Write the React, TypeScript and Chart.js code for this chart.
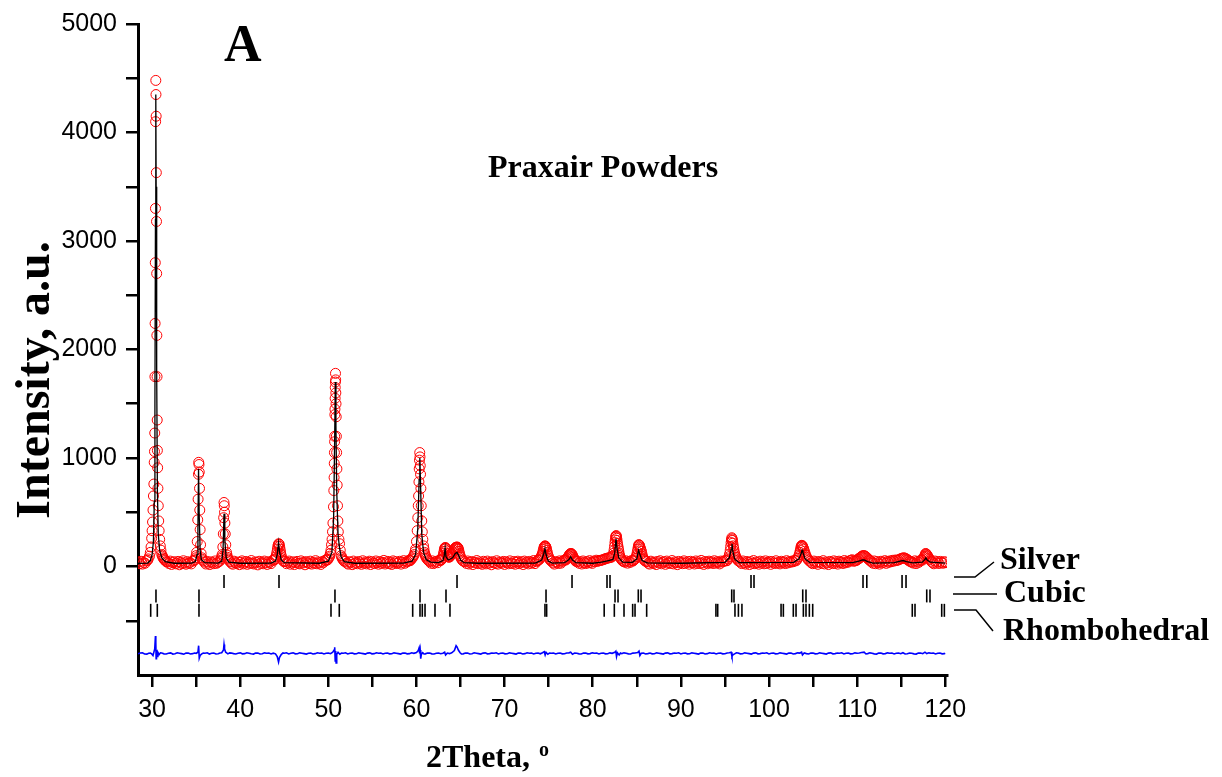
import React, { useEffect, useRef } from 'react';
import { Chart, registerables } from 'chart.js';

Chart.register(...registerables);

// ---- axis ranges and ticks ----
const X_MIN = 28.4;
const X_MAX = 120.2;
const Y_MIN = -1000;
const Y_MAX = 5000;
const xTickValues = [30, 35, 40, 45, 50, 55, 60, 65, 70, 75, 80, 85, 90, 95, 100, 105, 110, 115, 120];
const yTickValues = [-500, 0, 500, 1000, 1500, 2000, 2500, 3000, 3500, 4000, 4500, 5000];

// ---- observed pattern: background stretches on the instrument's constant 2theta step ----
const OBS_STEP = 0.15;
const obsBackground: { start: number; values: number[] }[] = [
  { start: 28.45, values: [40, 26, 48, 22, 37, 30, 52, 58] },
  { start: 31.75, values: [42, 28, 50, 19, 36, 44, 25, 31, 47, 16, 39, 27, 53, 33, 21, 45, 30, 38, 24, 49, 55] },
  { start: 35.95, values: [40, 23, 47, 31, 18, 43, 35, 26, 51, 29, 37, 46, 58] },
  { start: 38.85, values: [44, 30, 21, 49, 35, 27, 41, 17, 38, 52, 24, 33, 46, 20, 39, 29, 55, 31, 23, 42, 36, 15, 48, 28, 40, 25, 50, 34, 19, 44, 37, 27, 53, 60] },
  { start: 45.1, values: [45, 26, 38, 50, 21, 33, 43, 18, 36, 47, 29, 24, 52, 31, 40, 16, 45, 35, 27, 49, 22, 38, 30, 54, 25, 41, 33, 19, 46, 37, 55, 62] },
  { start: 51.95, values: [48, 31, 22, 44, 36, 17, 50, 28, 39, 25, 46, 33, 20, 53, 30, 41, 24, 37, 49, 18, 43, 32, 27, 51, 35, 21, 45, 29, 38, 56, 23, 34, 47, 26, 40, 19, 52, 31, 44, 28, 36, 48, 22, 39, 54, 30, 42, 47, 58] },
  { start: 61.5, values: [45, 30, 52, 27, 40, 48, 35, 55, 62] },
  { start: 65.5, values: [44, 29, 51, 23, 37, 46, 18, 40, 33, 55, 26, 42, 31, 20, 48, 36, 24, 50, 29, 39, 16, 45, 34, 27, 53, 22, 41, 37, 30, 47, 19, 43, 35, 25, 52, 32, 28, 46, 21, 39, 49, 26, 36, 44, 18, 50, 33, 41, 24, 47, 30, 38, 55, 27, 45, 58] },
  { start: 75.35, values: [50, 33, 22, 45, 38, 28, 52, 31, 47, 56, 60] },
  { start: 78.3, values: [48, 30, 42, 23, 51, 36, 27, 45, 33, 54, 39, 29, 50, 44, 58, 47, 56] },
  { start: 83.65, values: [40, 52, 31, 46, 38, 55, 50] },
  { start: 86.15, values: [45, 30, 22, 49, 36, 27, 41, 18, 46, 33, 53, 25, 38, 44, 20, 50, 31, 37, 28, 55, 24, 42, 35, 17, 47, 32, 40, 26, 52, 29, 36, 45, 21, 48, 34, 39, 23, 51, 30, 43, 27, 56, 33, 19, 46, 38, 25, 49, 35, 42, 28, 53, 31, 44, 37, 24, 50, 41, 47, 55, 52] },
  { start: 96.75, values: [40, 27, 51, 33, 22, 46, 38, 18, 44, 30, 55, 26, 41, 35, 21, 49, 32, 43, 25, 52, 29, 37, 47, 20, 45, 34, 28, 53, 31, 40, 24, 48, 36, 42, 27, 54, 33, 46, 39, 50, 44, 57, 52] },
  { start: 104.65, values: [48, 35, 26, 50, 31, 43, 20, 46, 37, 29, 54, 24, 41, 33, 18, 47, 38, 27, 52, 30, 44, 22, 49, 36, 41, 28, 55, 34, 46, 40, 52, 58, 62] },
  { start: 111.65, values: [42, 30, 51, 26, 45, 36, 22, 48, 33, 40, 54, 29, 47, 38, 52, 44, 57, 50, 60] },
  { start: 116.25, values: [40, 31, 52, 27, 46, 38, 55, 60] },
  { start: 118.4, values: [48, 36, 25, 50, 32, 44, 28, 47, 38, 30, 45, 35] },
];

// ---- observed pattern: peak regions (2theta, intensity) ----
const observedPeaks: [number, number][] = [
  [29.55, 70], [29.7, 95], [29.8, 130], [29.88, 180], [29.95, 260], [30.0, 330], [30.05, 410], [30.1, 520], [30.15, 650],
  [30.2, 760], [30.24, 960], [30.27, 1060], [30.3, 1230], [30.32, 1750], [30.34, 2240], [30.36, 2800], [30.38, 3300],
  [30.4, 4100], [30.42, 4480], [30.44, 4350], [30.46, 4150], [30.48, 3630], [30.5, 3180], [30.52, 2700], [30.54, 2130],
  [30.56, 1750], [30.58, 1350], [30.6, 1070], [30.63, 910], [30.66, 720], [30.7, 560], [30.75, 420], [30.8, 330],
  [30.86, 250], [30.93, 190], [31.0, 150], [31.1, 110], [31.18, 95], [31.25, 80], [31.33, 70], [31.4, 62], [31.5, 55], [31.6, 45],
  [34.88, 62], [34.95, 80], [35.0, 100], [35.05, 130], [35.12, 230], [35.18, 430], [35.22, 620], [35.26, 850], [35.29, 960],
  [35.32, 940], [35.35, 870], [35.38, 720], [35.41, 520], [35.45, 340], [35.5, 200], [35.56, 120], [35.65, 80], [35.72, 65], [35.8, 52],
  [37.85, 75], [37.9, 90], [37.95, 110], [38.03, 180], [38.08, 300], [38.12, 450], [38.16, 590], [38.19, 560], [38.22, 500],
  [38.26, 400], [38.3, 300], [38.36, 200], [38.44, 130], [38.5, 105], [38.55, 85], [38.62, 70], [38.7, 58],
  [43.9, 62], [43.95, 70], [44.03, 88], [44.1, 105], [44.16, 130], [44.22, 160], [44.27, 185], [44.32, 200], [44.37, 210],
  [44.42, 205], [44.47, 185], [44.52, 160], [44.57, 135], [44.62, 110], [44.68, 90], [44.75, 70], [44.85, 55], [44.95, 45],
  [49.85, 58], [49.95, 65], [50.05, 80], [50.15, 95], [50.22, 120], [50.3, 150], [50.36, 200], [50.42, 250], [50.47, 320],
  [50.52, 400], [50.58, 550], [50.62, 700], [50.65, 820], [50.67, 950], [50.69, 1050], [50.71, 1150], [50.72, 1200],
  [50.74, 1400], [50.75, 1450], [50.77, 1550], [50.78, 1650], [50.8, 1700], [50.81, 1780], [50.83, 1720], [50.85, 1600],
  [50.87, 1500], [50.89, 1380], [50.91, 1200], [50.94, 1050], [50.97, 900], [51.0, 750], [51.04, 560], [51.08, 420],
  [51.13, 320], [51.2, 250], [51.27, 210], [51.35, 150], [51.45, 100], [51.52, 85], [51.6, 70], [51.7, 58], [51.8, 48],
  [59.2, 52], [59.3, 55], [59.42, 68], [59.55, 80], [59.65, 95], [59.75, 110], [59.83, 135], [59.9, 160], [60.0, 230],
  [60.08, 330], [60.15, 450], [60.2, 560], [60.24, 650], [60.28, 780], [60.31, 900], [60.34, 980], [60.37, 1050],
  [60.4, 1010], [60.43, 930], [60.46, 850], [60.5, 720], [60.54, 560], [60.6, 420], [60.66, 320], [60.72, 250],
  [60.8, 190], [60.85, 160], [60.9, 130], [60.95, 115], [61.0, 100], [61.08, 88], [61.15, 75], [61.25, 65], [61.35, 55],
  [62.75, 55], [62.85, 65], [62.95, 80], [63.02, 100], [63.08, 120], [63.13, 140], [63.18, 160], [63.22, 170], [63.26, 175],
  [63.3, 172], [63.34, 165], [63.39, 145], [63.44, 120], [63.5, 105], [63.55, 95], [63.62, 88], [63.7, 85], [63.78, 90],
  [63.85, 100], [63.92, 110], [64.0, 120], [64.08, 128], [64.15, 135], [64.22, 148], [64.3, 160], [64.38, 170], [64.45, 175],
  [64.52, 178], [64.6, 180], [64.66, 176], [64.72, 170], [64.77, 158], [64.82, 140], [64.88, 120], [64.95, 100],
  [65.02, 85], [65.1, 70], [65.2, 58], [65.3, 50],
  [73.8, 55], [73.95, 65], [74.05, 78], [74.15, 90], [74.22, 105], [74.3, 120], [74.36, 140], [74.42, 160], [74.47, 175],
  [74.52, 185], [74.56, 188], [74.6, 190], [74.64, 186], [74.68, 180], [74.73, 168], [74.78, 150], [74.84, 130],
  [74.9, 110], [74.97, 92], [75.05, 75], [75.15, 62], [75.25, 52],
  [76.95, 60], [77.05, 70], [77.15, 80], [77.22, 90], [77.3, 100], [77.36, 108], [77.42, 115], [77.48, 118], [77.54, 120],
  [77.6, 116], [77.66, 110], [77.73, 98], [77.8, 85], [77.88, 72], [77.95, 62], [78.05, 52], [78.15, 45],
  [80.85, 55], [80.95, 58], [81.1, 60], [81.2, 64], [81.35, 68], [81.45, 72], [81.6, 75], [81.7, 78], [81.85, 80],
  [81.95, 82], [82.1, 85], [82.2, 92], [82.3, 100], [82.36, 122], [82.42, 150], [82.47, 185], [82.52, 220], [82.56, 245],
  [82.6, 270], [82.63, 280], [82.66, 285], [82.69, 275], [82.72, 260], [82.76, 240], [82.8, 215], [82.85, 192], [82.9, 170],
  [82.95, 145], [83.0, 120], [83.06, 100], [83.12, 85], [83.2, 72], [83.3, 60], [83.4, 52], [83.5, 45],
  [84.6, 55], [84.72, 62], [84.85, 75], [84.92, 90], [85.0, 110], [85.06, 135], [85.12, 160], [85.17, 182], [85.22, 200],
  [85.26, 200], [85.3, 195], [85.35, 182], [85.4, 170], [85.46, 155], [85.52, 140], [85.58, 118], [85.65, 95],
  [85.72, 78], [85.8, 65], [85.9, 55], [86.0, 48],
  [95.25, 55], [95.35, 70], [95.45, 90], [95.52, 115], [95.6, 150], [95.65, 185], [95.7, 220], [95.74, 245], [95.78, 265],
  [95.82, 255], [95.86, 240], [95.9, 215], [95.95, 190], [96.0, 165], [96.05, 140], [96.11, 118], [96.18, 100],
  [96.26, 85], [96.35, 70], [96.45, 58], [96.6, 48],
  [103.15, 60], [103.25, 75], [103.35, 90], [103.42, 108], [103.5, 130], [103.56, 152], [103.62, 175], [103.67, 188],
  [103.72, 195], [103.77, 192], [103.82, 185], [103.88, 172], [103.95, 160], [104.02, 140], [104.1, 120], [104.18, 102],
  [104.28, 85], [104.38, 70], [104.5, 58],
  [109.6, 48], [109.75, 52], [109.9, 55], [110.02, 62], [110.15, 70], [110.28, 78], [110.4, 85], [110.5, 92], [110.6, 98],
  [110.7, 100], [110.8, 100], [110.9, 96], [111.0, 90], [111.12, 80], [111.25, 70], [111.38, 60], [111.5, 52],
  [114.5, 55], [114.65, 60], [114.8, 65], [114.92, 70], [115.05, 75], [115.18, 78], [115.3, 80], [115.42, 77], [115.55, 72],
  [115.68, 65], [115.8, 58], [115.95, 50], [116.1, 42],
  [117.4, 58], [117.5, 70], [117.58, 82], [117.65, 95], [117.72, 108], [117.78, 120], [117.84, 116], [117.9, 110],
  [117.97, 100], [118.05, 90], [118.15, 78], [118.25, 65],
];

// ---- calculated profile ----
const calculated: [number, number][] = [
  [28.4, 28], [29.5, 32], [29.8, 55], [30.0, 110], [30.15, 230], [30.25, 600], [30.32, 1500], [30.38, 3200], [30.42, 4350],
  [30.46, 3500], [30.52, 1800], [30.6, 700], [30.7, 300], [30.85, 150], [31.1, 80], [31.5, 45], [32.5, 30], [34.5, 32],
  [34.9, 45], [35.1, 110], [35.2, 350], [35.27, 900], [35.34, 500], [35.45, 150], [35.6, 60], [36.0, 35], [37.5, 32],
  [37.9, 50], [38.05, 150], [38.16, 486], [38.25, 250], [38.4, 80], [38.7, 40], [40, 30], [43.5, 32], [44.0, 50],
  [44.2, 110], [44.35, 220], [44.45, 140], [44.65, 60], [45.0, 35], [49, 30], [50.0, 50], [50.4, 130], [50.6, 450],
  [50.72, 1200], [50.79, 1700], [50.86, 1300], [50.95, 700], [51.1, 300], [51.25, 180], [51.45, 90], [51.8, 45], [53, 30],
  [58.5, 32], [59.5, 50], [59.9, 110], [60.15, 350], [60.3, 800], [60.38, 1000], [60.45, 800], [60.6, 300], [60.8, 130],
  [61.1, 65], [61.6, 40], [62.5, 35], [63.0, 55], [63.15, 100], [63.25, 170], [63.35, 90], [63.6, 60], [64.1, 80],
  [64.4, 120], [64.6, 130], [64.8, 100], [65.0, 60], [65.4, 35], [67, 30], [73.5, 32], [74.2, 60], [74.45, 120],
  [74.58, 165], [74.7, 110], [74.95, 50], [75.4, 32], [76.8, 35], [77.3, 65], [77.5, 90], [77.7, 60], [78.1, 35], [80, 30],
  [81.0, 40], [81.8, 55], [82.3, 65], [82.5, 130], [82.64, 255], [82.75, 170], [82.95, 80], [83.4, 40], [84.5, 38],
  [85.0, 70], [85.2, 150], [85.35, 110], [85.6, 55], [86.2, 33], [90, 30], [95.0, 38], [95.5, 80], [95.72, 160],
  [95.8, 210], [95.9, 140], [96.1, 70], [96.6, 35], [102.8, 38], [103.4, 70], [103.65, 120], [103.75, 150], [103.85, 130],
  [104.1, 70], [104.6, 38], [109.5, 35], [110.2, 50], [110.6, 60], [110.8, 60], [111.2, 45], [111.8, 32], [114.2, 35],
  [114.9, 50], [115.2, 55], [115.6, 45], [116.3, 33], [117.4, 40], [117.7, 65], [117.8, 80], [117.95, 60], [118.3, 40],
  [120.0, 32],
];

// ---- difference curve (shifted) ----
const difference: [number, number][] = [
  [28.4, -805], [28.65, -797], [28.9, -795], [29.15, -806], [29.4, -808], [29.6, -799], [29.8, -798], [29.95, -806], [30.1, -820], [30.3, -760], [30.38, -640], [30.42, -700],
  [30.46, -850], [30.5, -770], [30.56, -830], [30.65, -790], [30.8, -812], [30.95, -796], [31.1, -798], [31.35, -805], [31.6, -806], [31.85, -799], [32.1, -796],
  [32.35, -807], [32.6, -804], [32.85, -795], [33.1, -799], [33.35, -803], [33.6, -808], [33.85, -798], [34.1, -797], [34.35, -806], [34.6, -803], [34.8, -797], [35.0, -800], [35.2, -790], [35.28, -730],
  [35.35, -845], [35.45, -820], [35.6, -808], [35.8, -797], [36.0, -800], [36.25, -795], [36.5, -807], [36.75, -800], [37.0, -797], [37.25, -806], [37.5, -804], [37.7, -797], [37.9, -795],
  [38.1, -770], [38.16, -720], [38.22, -760], [38.35, -790], [38.6, -805], [38.8, -796], [39, -798], [39.25, -803], [39.5, -806], [39.75, -799], [40, -796],
  [40.25, -805], [40.5, -803], [40.75, -795], [41, -799], [41.25, -804], [41.5, -807], [41.75, -798], [42, -797], [42.25, -806], [42.5, -804], [42.75, -796], [43, -800], [43.25, -797], [43.5, -806], [43.75, -799], [44.0, -805], [44.2, -830],
  [44.35, -880], [44.45, -840], [44.65, -812], [44.85, -797], [45, -800], [45.25, -795], [45.5, -806], [45.75, -799], [46, -796], [46.25, -805], [46.5, -804], [46.75, -796], [47, -799],
  [47.25, -803], [47.5, -807], [47.75, -799], [48, -797], [48.25, -806], [48.5, -803], [48.75, -795], [49, -800], [49.25, -797], [49.5, -806], [49.75, -799], [50.0, -797], [50.25, -804], [50.5, -790], [50.65, -770],
  [50.72, -745], [50.78, -870], [50.83, -780], [50.88, -890], [50.95, -810], [51.1, -790], [51.3, -808], [51.5, -797], [51.7, -800], [51.95, -795],
  [52.2, -806], [52.45, -799], [52.7, -797], [52.95, -805], [53.2, -804], [53.45, -796], [53.7, -799], [53.95, -803], [54.2, -807], [54.45, -798], [54.7, -796], [54.95, -805], [55.2, -803], [55.45, -795], [55.7, -800],
  [55.95, -797], [56.2, -806], [56.45, -799], [56.7, -797], [56.95, -805], [57.2, -804], [57.45, -796], [57.7, -799], [57.95, -803], [58.2, -807], [58.45, -798], [58.7, -797], [58.95, -805], [59.2, -803], [59.45, -795], [59.7, -800],
  [60.0, -792], [60.2, -775], [60.3, -750], [60.36, -800], [60.42, -770], [60.48, -850], [60.55, -810], [60.7, -795], [60.85, -806],
  [61.0, -805], [61.25, -797], [61.5, -798], [61.75, -805], [62.0, -806], [62.25, -799], [62.5, -797], [62.75, -804], [63.0, -800], [63.2, -790], [63.3, -815], [63.5, -798], [63.75, -803],
  [64.0, -795], [64.3, -775], [64.5, -730], [64.6, -740], [64.75, -770], [64.95, -795], [65.1, -806], [65.3, -805], [65.55, -798], [65.8, -797],
  [66.05, -806], [66.3, -804], [66.55, -795], [66.8, -799], [67.05, -803], [67.3, -807], [67.55, -798], [67.8, -796], [68.05, -805], [68.3, -803], [68.55, -797], [68.8, -800], [69.05, -795], [69.3, -806], [69.55, -799], [69.8, -797],
  [70.05, -805], [70.3, -804], [70.55, -796], [70.8, -799], [71.05, -803], [71.3, -807], [71.55, -798], [71.8, -797], [72.05, -806], [72.3, -803], [72.55, -795], [72.8, -800], [73.05, -797], [73.3, -806], [73.55, -799], [73.8, -797],
  [74.05, -805], [74.3, -795], [74.5, -785], [74.6, -815], [74.7, -790], [74.9, -808], [75.1, -798], [75.3, -800], [75.55, -797], [75.8, -806], [76.05, -799], [76.3, -797],
  [76.55, -805], [76.8, -804], [77.05, -797], [77.3, -796], [77.5, -790], [77.7, -808], [77.95, -797], [78.2, -799], [78.45, -805], [78.7, -806], [78.95, -798], [79.2, -797], [79.45, -805], [79.7, -803],
  [79.95, -796], [80.2, -800], [80.45, -797], [80.7, -806], [80.95, -799], [81.2, -797], [81.45, -805], [81.7, -804], [81.95, -796], [82.2, -800], [82.5, -790], [82.62, -780], [82.7, -830],
  [82.8, -795], [83.0, -815], [83.15, -798], [83.3, -803], [83.55, -796], [83.8, -799], [84.05, -805], [84.3, -806], [84.55, -798], [84.8, -797], [85.1, -793], [85.25, -780],
  [85.35, -820], [85.5, -800], [85.75, -797], [86.0, -806], [86.25, -803], [86.5, -797], [86.75, -805], [87.0, -804], [87.25, -796], [87.5, -799], [87.75, -803], [88.0, -807], [88.25, -798], [88.5, -796],
  [88.75, -805], [89.0, -803], [89.25, -797], [89.5, -800], [89.75, -795], [90.0, -806], [90.25, -799], [90.5, -797], [90.75, -805], [91.0, -804], [91.25, -796], [91.5, -799], [91.75, -803], [92.0, -807], [92.25, -798], [92.5, -797],
  [92.75, -806], [93.0, -803], [93.25, -795], [93.5, -800], [93.75, -797], [94.0, -806], [94.25, -799], [94.5, -797], [94.75, -805], [95.0, -804], [95.25, -797], [95.5, -795], [95.7, -790], [95.8, -830],
  [95.9, -815], [96.1, -805], [96.3, -796], [96.5, -797], [96.75, -805], [97.0, -804], [97.25, -796], [97.5, -799], [97.75, -803], [98.0, -807], [98.25, -798], [98.5, -796], [98.75, -805], [99.0, -803],
  [99.25, -797], [99.5, -800], [99.75, -795], [100.0, -806], [100.25, -799], [100.5, -797], [100.75, -805], [101.0, -804], [101.25, -796], [101.5, -799], [101.75, -803], [102.0, -807], [102.25, -798], [102.5, -797], [102.75, -806], [103.0, -803],
  [103.25, -796], [103.5, -798], [103.7, -790], [103.8, -815], [104.0, -797], [104.25, -803], [104.5, -806], [104.75, -798], [105.0, -797], [105.25, -805], [105.5, -804], [105.75, -796], [106.0, -799], [106.25, -803],
  [106.5, -807], [106.75, -798], [107.0, -796], [107.25, -805], [107.5, -803], [107.75, -797], [108.0, -800], [108.25, -795], [108.5, -806], [108.75, -799], [109.0, -797], [109.25, -805], [109.5, -804], [109.75, -796], [110.0, -799],
  [110.25, -797], [110.5, -793], [110.8, -790], [111.0, -806], [111.2, -803], [111.45, -796], [111.7, -799], [111.95, -805], [112.2, -807], [112.45, -798], [112.7, -797], [112.95, -805], [113.2, -803], [113.45, -796], [113.7, -800],
  [113.95, -797], [114.2, -806], [114.45, -799], [114.7, -797], [114.95, -804], [115.2, -795], [115.45, -806], [115.7, -804], [115.95, -797], [116.2, -799], [116.45, -805], [116.7, -807], [116.95, -798], [117.2, -797], [117.45, -804], [117.7, -790],
  [117.9, -803], [118.15, -796], [118.4, -800], [118.65, -797], [118.9, -806], [119.15, -799], [119.4, -797], [119.65, -805], [119.9, -803], [120.0, -800],
];

// ---- reflection positions (2theta) ----
const silverReflections = [38.16, 44.4, 64.6, 77.65, 81.62, 81.96, 97.96, 98.3, 110.67, 111.1, 115.1, 115.55];
const cubicReflections = [30.44, 35.32, 50.75, 60.4, 63.35, 74.7, 82.53, 82.87, 85.17, 85.48, 95.77, 96.03, 103.83, 104.2, 117.9, 118.27];
const rhombohedralReflections = [
  29.84, 30.59, 35.32, 50.3, 51.24, 59.57, 60.4, 60.66, 60.97, 62.1, 63.8, 74.58, 74.77, 81.3, 82.45, 83.55, 84.53, 84.8,
  86.12, 93.98, 94.18, 96.14, 96.53, 96.93, 101.37, 101.63, 102.76, 103.07, 103.9, 104.2, 104.58, 104.96, 116.26, 116.57,
  119.6, 119.9,
];
const SILVER_ROW = -138;
const CUBIC_ROW = -271;
const RHOMBO_ROW = -404;

const phaseLabels = ['Silver', 'Cubic', 'Rhombohedral'];
const xAxisTitle = '2Theta, ';
const yAxisTitle = 'Intensity, a.u.';
const panelLetter = 'A';
const sampleTitle = 'Praxair Powders';

const toPoints = (arr: [number, number][]) => arr.map(([x, y]) => ({ x, y }));
const rowPoints = (arr: number[], row: number) => arr.map((x) => ({ x, y: row }));
const observedPoints = () => {
  const bg = obsBackground.flatMap((seg) =>
    seg.values.map((y, i) => ({ x: Math.round((seg.start + i * OBS_STEP) * 1000) / 1000, y }))
  );
  return [...bg, ...toPoints(observedPeaks)].sort((a, b) => a.x - b.x);
};

const SERIF = '"Liberation Serif", "Times New Roman", serif';

const annotatePlugin = {
  id: 'annotate',
  afterDraw(chart: any) {
    const ctx = chart.ctx as CanvasRenderingContext2D;
    ctx.save();
    ctx.fillStyle = '#000';
    ctx.strokeStyle = '#000';
    ctx.textAlign = 'left';
    ctx.textBaseline = 'alphabetic';

    ctx.font = `bold 52px ${SERIF}`;
    ctx.fillText(panelLetter, 224, 61);

    ctx.font = `bold 32px ${SERIF}`;
    ctx.fillText(sampleTitle, 488, 177);

    ctx.font = `bold 32px ${SERIF}`;
    ctx.fillText(phaseLabels[0], 1000, 569);
    ctx.fillText(phaseLabels[1], 1004, 602);
    ctx.fillText(phaseLabels[2], 1003, 640);

    ctx.lineWidth = 1.5;
    ctx.beginPath();
    ctx.moveTo(954, 577); ctx.lineTo(975, 577); ctx.lineTo(994, 562);
    ctx.moveTo(953, 594); ctx.lineTo(997, 594);
    ctx.moveTo(954, 610); ctx.lineTo(976, 610); ctx.lineTo(993, 631);
    ctx.stroke();

    // x-axis title
    ctx.font = `bold 32px ${SERIF}`;
    ctx.fillText(xAxisTitle, 426, 767);
    const w = ctx.measureText(xAxisTitle).width;
    ctx.font = `bold 20px ${SERIF}`;
    ctx.fillText('o', 426 + w + 1, 756);

    // y-axis title
    ctx.translate(49, 380);
    ctx.rotate(-Math.PI / 2);
    ctx.textAlign = 'center';
    ctx.font = `bold 48px ${SERIF}`;
    ctx.fillText(yAxisTitle, 0, 0);
    ctx.restore();
  },
};

export default function App() {
  const canvasRef = useRef<HTMLCanvasElement | null>(null);

  useEffect(() => {
    if (!canvasRef.current) return;
    const tickStyle = { family: '"Liberation Sans", Arial, sans-serif', size: 25 };
    const chart = new Chart(canvasRef.current, {
      type: 'scatter',
      data: {
        datasets: [
          {
            label: 'calc',
            data: toPoints(calculated),
            showLine: true,
            borderColor: '#000',
            borderWidth: 1.3,
            pointRadius: 0,
            order: 0,
          },
          {
            label: 'obs',
            data: observedPoints(),
            showLine: false,
            pointStyle: 'circle',
            pointRadius: 5,
            pointBorderColor: '#ff0000',
            pointBackgroundColor: 'rgba(0,0,0,0)',
            pointBorderWidth: 1,
            order: 1,
          },
          {
            label: 'diff',
            data: toPoints(difference),
            showLine: true,
            borderColor: '#0000ff',
            borderWidth: 1.6,
            pointRadius: 0,
            order: 2,
          },
          {
            label: 'silver',
            data: rowPoints(silverReflections, SILVER_ROW),
            showLine: false,
            pointStyle: 'line',
            pointRotation: 90,
            pointRadius: 6.5,
            pointBorderColor: '#000',
            pointBorderWidth: 1.6,
            order: 3,
          },
          {
            label: 'cubic',
            data: rowPoints(cubicReflections, CUBIC_ROW),
            showLine: false,
            pointStyle: 'line',
            pointRotation: 90,
            pointRadius: 6.5,
            pointBorderColor: '#000',
            pointBorderWidth: 1.6,
            order: 3,
          },
          {
            label: 'rhombohedral',
            data: rowPoints(rhombohedralReflections, RHOMBO_ROW),
            showLine: false,
            pointStyle: 'line',
            pointRotation: 90,
            pointRadius: 6.5,
            pointBorderColor: '#000',
            pointBorderWidth: 1.6,
            order: 3,
          },
        ],
      },
      options: {
        animation: false,
        responsive: false,
        devicePixelRatio: 1,
        events: [],
        layout: { padding: { left: 0, top: 21, right: 275, bottom: 0 } },
        plugins: { legend: { display: false }, tooltip: { enabled: false }, title: { display: false } },
        scales: {
          x: {
            type: 'linear',
            min: X_MIN,
            max: X_MAX,
            afterFit: (s: any) => { s.height = 102; },
            afterBuildTicks: (s: any) => { s.ticks = xTickValues.map((v) => ({ value: v })); },
            ticks: {
              color: '#000',
              font: tickStyle,
              padding: 8,
              maxRotation: 0,
              autoSkip: false,
              callback: (v: any) => (Number(v) % 10 === 0 ? String(v) : ''),
            },
            grid: { drawOnChartArea: false, drawTicks: true, tickLength: 12, lineWidth: 2.5, color: '#000' },
            border: { display: true, width: 3, color: '#000' },
          },
          y: {
            type: 'linear',
            min: Y_MIN,
            max: Y_MAX,
            afterFit: (s: any) => { s.width = 138; },
            afterBuildTicks: (s: any) => { s.ticks = yTickValues.map((v) => ({ value: v })); },
            ticks: {
              color: '#000',
              font: tickStyle,
              padding: 9,
              autoSkip: false,
              callback: (v: any) => (Number(v) >= 0 && Number(v) % 1000 === 0 ? String(v) : ''),
            },
            grid: { drawOnChartArea: false, drawTicks: true, tickLength: 12, lineWidth: 2.5, color: '#000' },
            border: { display: true, width: 3, color: '#000' },
          },
        },
      },
      plugins: [annotatePlugin],
    } as any);
    return () => chart.destroy();
  }, []);

  return (
    <div style={{ position: 'absolute', left: 0, top: 0, width: 1222, height: 777, background: '#fff' }}>
      <canvas ref={canvasRef} width={1222} height={777} style={{ display: 'block', width: 1222, height: 777 }} />
    </div>
  );
}
